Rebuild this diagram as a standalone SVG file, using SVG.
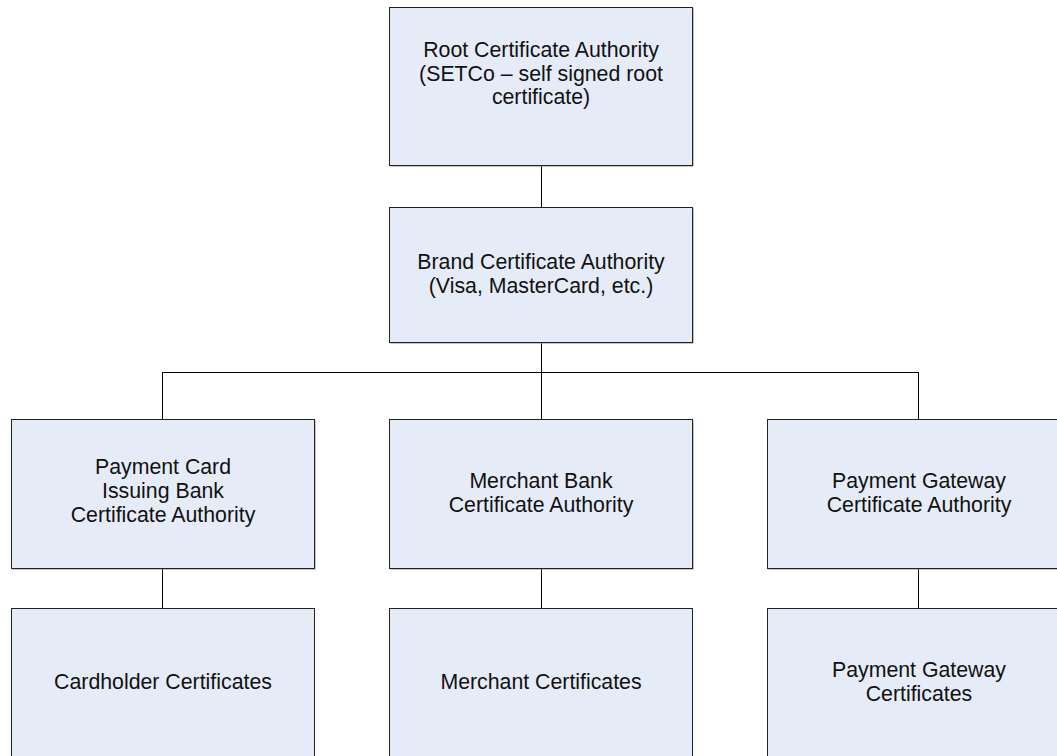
<svg xmlns="http://www.w3.org/2000/svg" width="1057" height="756" viewBox="0 0 1057 756">
  <style>
    .box { fill: #E6ECF7; stroke: #222; stroke-width: 1; }
    .shadow { fill: #8A8A8A; }
    .link { fill: none; stroke: #000; stroke-width: 1; }
    .label { font-family: "Liberation Sans", Arial, sans-serif; font-size: 21.3px; fill: #111; text-anchor: middle; }
  </style>
  <rect width="1057" height="756" fill="#FFFFFF"/>

  <!-- hierarchy connectors -->
  <g id="connectors">
    <path class="link" d="M541.5 165 V207"/>
    <path class="link" d="M541.5 343 V419"/>
    <path class="link" d="M162.5 372.5 H918.5"/>
    <path class="link" d="M162.5 372 V419"/>
    <path class="link" d="M918.5 372 V419"/>
    <path class="link" d="M162.5 569 V608"/>
    <path class="link" d="M541.5 569 V608"/>
    <path class="link" d="M918.5 569 V608"/>
  </g>

  <g id="root-ca">
    <rect class="shadow" x="390.5" y="8.5" width="303" height="158"/>
    <rect class="box" x="389.5" y="7.5" width="303" height="158"/>
    <text class="label" x="541" y="57">Root Certificate Authority</text>
    <text class="label" x="541" y="80.5">(SETCo – self signed root</text>
    <text class="label" x="541" y="104">certificate)</text>
  </g>

  <g id="brand-ca">
    <rect class="shadow" x="390.5" y="208.5" width="303" height="135"/>
    <rect class="box" x="389.5" y="207.5" width="303" height="135"/>
    <text class="label" x="541" y="269">Brand Certificate Authority</text>
    <text class="label" x="541" y="293">(Visa, MasterCard, etc.)</text>
  </g>

  <g id="issuing-bank-ca">
    <rect class="shadow" x="12.5" y="420.5" width="303" height="149"/>
    <rect class="box" x="11.5" y="419.5" width="303" height="149"/>
    <text class="label" x="163" y="474">Payment Card</text>
    <text class="label" x="163" y="498">Issuing Bank</text>
    <text class="label" x="163" y="522">Certificate Authority</text>
  </g>

  <g id="merchant-bank-ca">
    <rect class="shadow" x="390.5" y="420.5" width="303" height="149"/>
    <rect class="box" x="389.5" y="419.5" width="303" height="149"/>
    <text class="label" x="541" y="488">Merchant Bank</text>
    <text class="label" x="541" y="512">Certificate Authority</text>
  </g>

  <g id="gateway-ca">
    <rect class="shadow" x="768.5" y="420.5" width="303" height="149"/>
    <rect class="box" x="767.5" y="419.5" width="303" height="149"/>
    <text class="label" x="919" y="488">Payment Gateway</text>
    <text class="label" x="919" y="512">Certificate Authority</text>
  </g>

  <g id="cardholder-certs">
    <rect class="box" x="11.5" y="608.5" width="303" height="152"/>
    <text class="label" x="163" y="689">Cardholder Certificates</text>
  </g>

  <g id="merchant-certs">
    <rect class="box" x="389.5" y="608.5" width="303" height="152"/>
    <text class="label" x="541" y="689">Merchant Certificates</text>
  </g>

  <g id="gateway-certs">
    <rect class="box" x="767.5" y="608.5" width="303" height="152"/>
    <text class="label" x="919" y="677">Payment Gateway</text>
    <text class="label" x="919" y="701">Certificates</text>
  </g>
</svg>
